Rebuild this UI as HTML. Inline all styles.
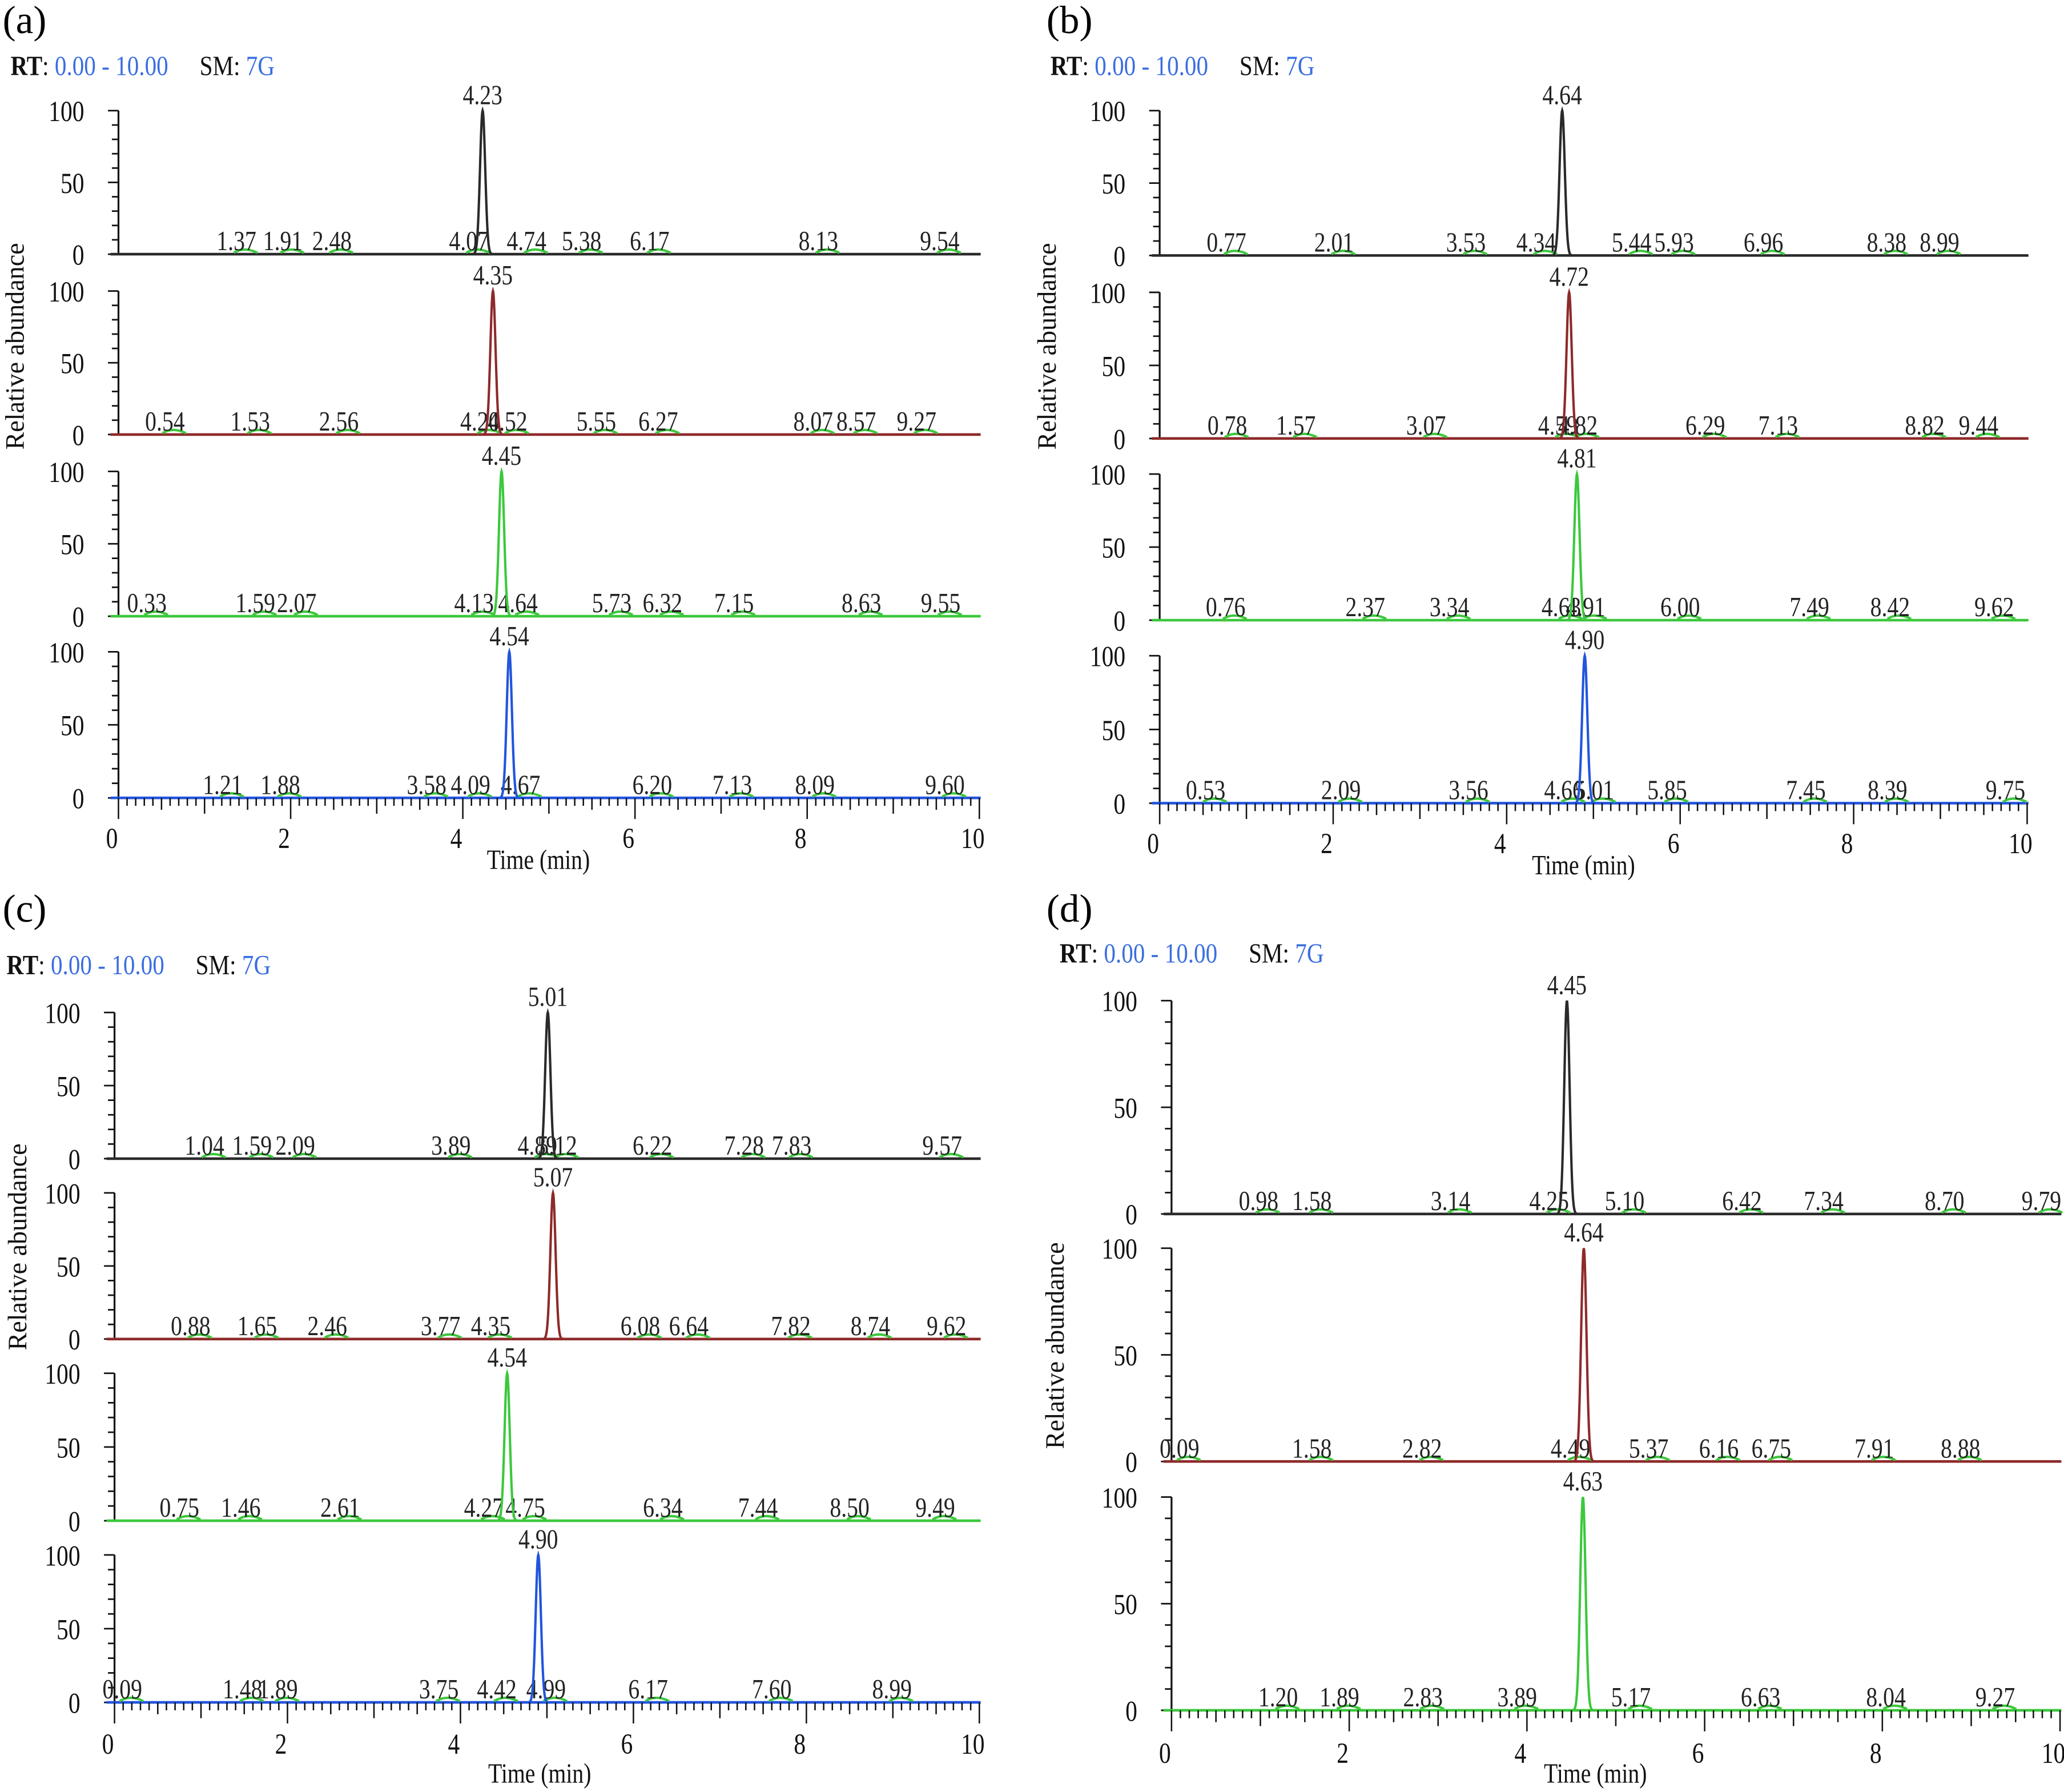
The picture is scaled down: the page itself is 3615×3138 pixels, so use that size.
<!DOCTYPE html>
<html><head><meta charset="utf-8"><style>html,body{margin:0;padding:0;background:#fff}svg{display:block}text{font-family:"Liberation Serif",serif}</style></head>
<body>
<svg id="fig" xmlns="http://www.w3.org/2000/svg" width="3615" height="3138" viewBox="0 0 1568 1361"></svg>
<script>
// ---- data ----
const aPeaks=[4.23,4.35,4.45,4.54];
const aMinor=[[1.37,1.91,2.48,4.07,4.74,5.38,6.17,8.13,9.54],[0.54,1.53,2.56,4.20,4.52,5.55,6.27,8.07,8.57,9.27],[0.33,1.59,2.07,4.13,4.64,5.73,6.32,7.15,8.63,9.55],[1.21,1.88,3.58,4.09,4.67,6.20,7.13,8.09,9.60]];
const bPeaks=[4.64,4.72,4.81,4.90];
const bMinor=[[0.77,2.01,3.53,4.34,5.44,5.93,6.96,8.38,8.99],[0.78,1.57,3.07,4.59,4.82,6.29,7.13,8.82,9.44],[0.76,2.37,3.34,4.63,4.91,6.00,7.49,8.42,9.62],[0.53,2.09,3.56,4.66,5.01,5.85,7.45,8.39,9.75]];
const cPeaks=[5.01,5.07,4.54,4.90];
const cMinor=[[1.04,1.59,2.09,3.89,4.89,5.12,6.22,7.28,7.83,9.57],[0.88,1.65,2.46,3.77,4.35,6.08,6.64,7.82,8.74,9.62],[0.75,1.46,2.61,4.27,4.75,6.34,7.44,8.50,9.49],[0.09,1.48,1.89,3.75,4.42,4.99,6.17,7.60,8.99]];
const dPeaks=[4.45,4.64,4.63];
const dMinor=[[0.98,1.58,3.14,4.25,5.10,6.42,7.34,8.70,9.79],[0.09,1.58,2.82,4.49,5.37,6.16,6.75,7.91,8.88],[1.20,1.89,2.83,3.89,5.17,6.63,8.04,9.27]];
const xTicks=[0,2,4,6,8,10];
const yTicks=[0,50,100];
const colors=['#2a2a2a','#8e2a2a','#3cc83c','#2255dd'];

const NS='http://www.w3.org/2000/svg';
const svg=document.getElementById('fig');
function mk(tag,attrs,parent,txt){const e=document.createElementNS(NS,tag);for(const k in attrs)e.setAttribute(k,attrs[k]);if(txt!==undefined)e.textContent=txt;(parent||svg).appendChild(e);return e;}
// narrow text helper
function nt(x,y,size,anchor,str,parent){return mk('text',{x:0,y:0,'font-size':size,'text-anchor':anchor,fill:'#222',transform:`translate(${x},${y}) scale(0.82,1)`},parent,str);}

const panels=[
 {id:'a',peaks:aPeaks,minor:aMinor,x0:90,x1:744,base:[193,330,468,606],top:[84,221,358,495],lab:[2,25],rt:[8,57],yl:[18,263],tk:637,tt:[409,660],cols:[0,1,2,3]},
 {id:'b',peaks:bPeaks,minor:bMinor,x0:881,x1:1540,base:[194,333,471,610],top:[84,222,360,498],lab:[795,25],rt:[798,57],yl:[802,263],tk:641,tt:[1203,664],cols:[0,1,2,3]},
 {id:'c',peaks:cPeaks,minor:cMinor,x0:87,x1:744,base:[880,1017,1155,1293],top:[769,906,1043,1181],lab:[2,700],rt:[5,740],yl:[20,947],tk:1325,tt:[410,1354],cols:[0,1,2,3]},
 {id:'d',peaks:dPeaks,minor:dMinor,x0:890,x1:1565,base:[922,1110,1299],top:[760,948,1137],lab:[795,700],rt:[805,731],yl:[808,1022],tk:1332,tt:[1212,1354],cols:[0,1,2]}
];

panels.forEach(p=>{
 const g=mk('g',{});
 
 
 const X=t=>p.x0+(p.x1-p.x0)*t/10;
 const t1=mk('text',{x:p.lab[0],y:p.lab[1],'font-size':30},g,'('+p.id+')');
 
 const rt=mk('text',{x:0,y:0,'font-size':21,transform:`translate(${p.rt[0]},${p.rt[1]}) scale(0.85,1)`},g);
 
 mk('tspan',{fill:'#111','font-weight':'bold'},rt,'RT');mk('tspan',{fill:'#111'},rt,': ');mk('tspan',{fill:'#3a6ee0'},rt,'0.00 - 10.00');
 mk('tspan',{fill:'#111',dx:28},rt,'SM: ');mk('tspan',{fill:'#3a6ee0'},rt,'7G');
 const yl=mk('text',{x:0,y:0,'font-size':20,'text-anchor':'middle',transform:`translate(${p.yl[0]},${p.yl[1]}) rotate(-90)`,fill:'#111'},g,'Relative abundance');
 
 const n=p.peaks.length;
 for(let i=0;i<n;i++){
  const sg=mk('g',{},g);
  
  
  const b=p.base[i],tp=p.top[i];
  const Y=v=>b-(b-tp)*v/100;
  const col=colors[p.cols[i]];
  mk('line',{x1:p.x0,y1:tp,x2:p.x0,y2:b,stroke:'#111','stroke-width':1.4},sg);
  for(let v=0;v<=100;v+=10){const maj=v%50===0;mk('line',{x1:p.x0-(maj?8:5),y1:Y(v),x2:p.x0,y2:Y(v),stroke:'#111','stroke-width':1.2},sg);}
  yTicks.forEach(v=>{const t=nt(p.x0-26,Y(v)+8,22,'end',String(v),sg);t.setAttribute('fill','#111');});
  mk('line',{x1:p.x0-6,y1:b,x2:p.x1+1,y2:b,stroke:col,'stroke-width':2},sg);
  p.minor[i].forEach(m=>{
   mk('path',{d:`M${X(m)-2},${b-1} Q${X(m)+6},${b-6} ${X(m)+16},${b-1}`,stroke:'#3cc83c','stroke-width':1.8,fill:'none'},sg);
   const t=nt(X(m),b-3,21,'middle',m.toFixed(2),sg);
   
  });
  const pk=p.peaks[i];let d='';
  for(let k=-30;k<=30;k++){const t=pk+k*0.004;const v=100*Math.exp(-Math.pow((t-pk)/0.03,2)/2);d+=(k===-30?'M':'L')+X(t).toFixed(2)+','+Y(v).toFixed(2);}
  const pl=mk('path',{d:d,stroke:col,'stroke-width':1.8,fill:'none'},sg);
  
  const pt=nt(X(pk),tp-5,21,'middle',pk.toFixed(2),sg);
  
 }
 const b=p.base[n-1];
 for(let k=0;k<=100;k++){const t=k/10;const len=k%20===0?16:(k%10===0?12:(k%5===0?9:6));mk('line',{x1:X(t),y1:b,x2:X(t),y2:b+len,stroke:'#111','stroke-width':1.1},g);}
 xTicks.forEach(t=>{const e=nt(X(t)-5,p.tk+7,22,'middle',String(t),g);e.setAttribute('fill','#111');});
 const xt=nt(p.tt[0],p.tt[1],21,'middle','Time (min)',g);
 xt.setAttribute('fill','#111');
 
});
</script>
</body></html>
